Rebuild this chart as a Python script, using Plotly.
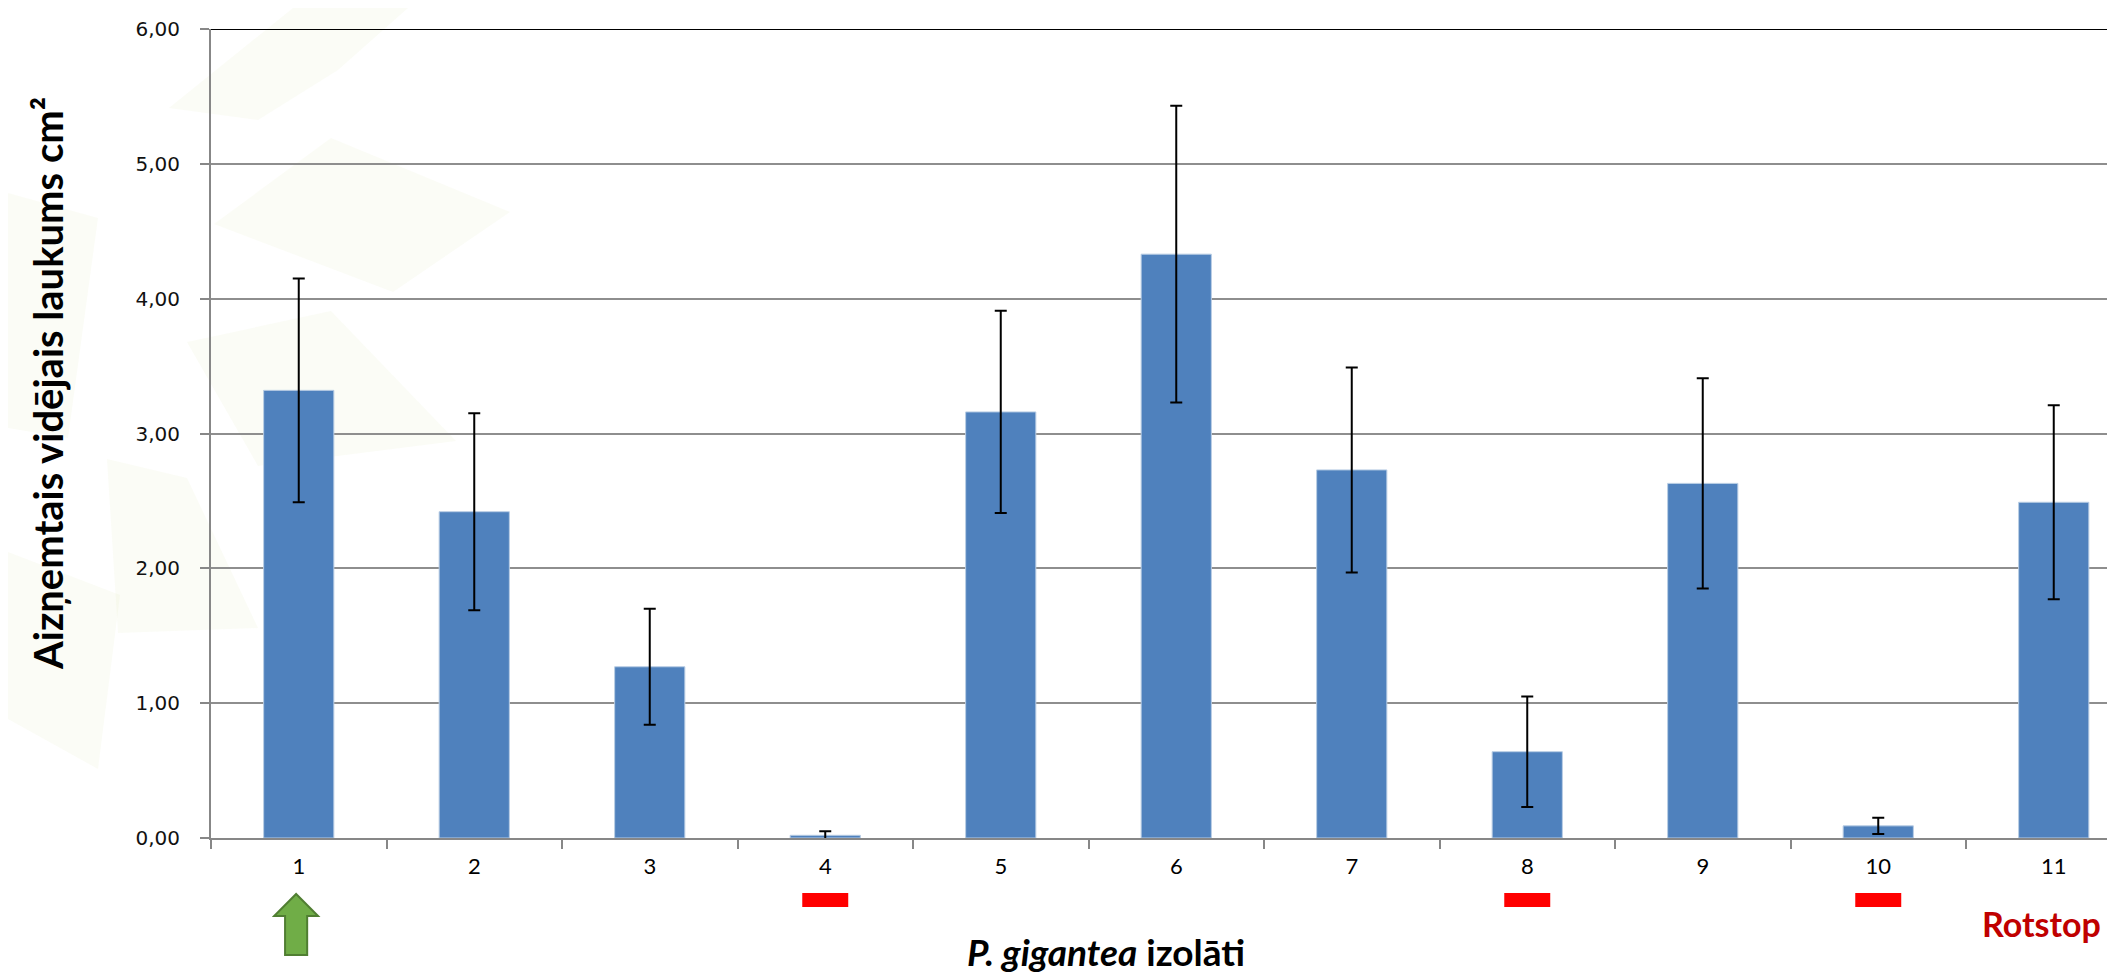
import plotly.graph_objects as go

# ---- data ----
categories = ["1", "2", "3", "4", "5", "6", "7", "8", "9", "10", "11"]
x_pos = [1, 2, 3, 4, 5, 6, 7, 8, 9, 10, 11]
mean_area = [3.32, 2.42, 1.27, 0.02, 3.16, 4.33, 2.73, 0.64, 2.63, 0.09, 2.49]
std_err = [0.83, 0.73, 0.43, 0.03, 0.75, 1.10, 0.76, 0.41, 0.78, 0.06, 0.72]
y_ticks = [0, 1, 2, 3, 4, 5, 6]
marked_red = [4, 8, 10]      # isolates marked with a red dash
marked_green = [1]           # isolate marked with a green arrow
reference_label = "Rotstop"

# ---- layout geometry (pixels) ----
W, H = 2115, 972
L, R, T, B = 203, 0, 21, 142
PW, PH = W - L - R, H - T - B


def px(xp):
    return (xp - L) / PW


def py(yp):
    return (H - B - yp) / PH


fig = go.Figure()
fig.add_trace(go.Bar(
    x=x_pos, y=mean_area, width=0.4,
    marker=dict(color="#4F81BD", line=dict(color="#B9CDE4", width=1)),
    error_y=dict(type="data", array=std_err, visible=True,
                 color="#000000", thickness=2, width=6),
    hoverinfo="x+y",
))

shapes = []
# faint decorative background tiles (slide template)
tiles = [
    [(161, 100), (285, 0), (400, 0), (330, 62), (250, 112)],
    [(206, 216), (323, 130), (502, 204), (385, 284)],
    [(179, 334), (323, 303), (448, 433), (250, 458)],
    [(99, 451), (179, 470), (250, 620), (110, 625)],
    [(0, 544), (112, 587), (90, 761), (0, 711)],
    [(0, 185), (90, 210), (60, 430), (0, 420)],
]
for poly in tiles:
    d = "M " + " L ".join(f"{px(a):.5f},{py(b):.5f}" for a, b in poly) + " Z"
    shapes.append(dict(type="path", xref="paper", yref="paper", path=d,
                       fillcolor="rgba(215,220,150,0.09)", line=dict(width=0),
                       layer="below"))

# top border line at 6,00
shapes.append(dict(type="line", xref="paper", yref="y", x0=0, x1=1, y0=6, y1=6,
                   line=dict(color="#000000", width=2)))

# red dashes under marked isolates
for c in marked_red:
    shapes.append(dict(type="rect", xref="x", yref="paper",
                       x0=c - 0.131, x1=c + 0.131, y0=py(899), y1=py(885),
                       fillcolor="#FF0000", line=dict(width=0)))

# green arrow(s)
for c in marked_green:
    hw, sw = 0.125, 0.063
    xc = c - 0.015
    pts = [(xc, 886), (xc + hw, 908), (xc + sw, 908), (xc + sw, 947),
           (xc - sw, 947), (xc - sw, 908), (xc - hw, 908)]
    d = "M " + " L ".join(f"{a:.4f},{py(b):.5f}" for a, b in pts) + " Z"
    shapes.append(dict(type="path", xref="x", yref="paper", path=d,
                       fillcolor="#70AD47", line=dict(color="#507E32", width=2)))

annotations = [
    dict(text="<b>Aizņemtais vidējais laukums cm²</b>", xref="paper", yref="paper",
         x=px(40), y=py(376), textangle=-90, showarrow=False,
         xanchor="center", yanchor="middle",
         font=dict(family="Lato", size=40, color="#000000")),
    dict(text="<b><i>P. gigantea</i> izolāti</b>", xref="paper", yref="paper",
         x=px(1098), y=py(944), showarrow=False, xanchor="center", yanchor="middle",
         font=dict(family="Lato", size=37, color="#000000")),
    dict(text=f"<b>{reference_label}</b>", xref="paper", yref="paper",
         x=px(2033), y=py(915), showarrow=False,
         xanchor="center", yanchor="middle",
         font=dict(family="Lato", size=34, color="#C00000")),
]

fig.update_layout(
    width=W, height=H,
    margin=dict(l=L, r=R, t=T, b=B, pad=0),
    paper_bgcolor="#FFFFFF", plot_bgcolor="rgba(0,0,0,0)",
    separators=",.",
    showlegend=False,
    bargap=0.6,
    shapes=shapes,
    annotations=annotations,
    xaxis=dict(
        range=[0.5, 0.5 + PW / 175.5], tickvals=x_pos, ticktext=categories,
        ticks="", showgrid=False, zeroline=False,
        showline=True, linecolor="#878787", linewidth=2,
        tickfont=dict(family="Lato", size=22, color="#000000"),
        ticklabelstandoff=8,
        minor=dict(tickvals=[v + 0.5 for v in [0] + x_pos], ticks="outside",
                   ticklen=9, tickwidth=2, tickcolor="#878787", showgrid=False),
        automargin=False, fixedrange=True,
    ),
    yaxis=dict(
        range=[0, 6], tickvals=y_ticks, tickformat=".2f",
        ticks="outside", ticklen=9, tickwidth=2, tickcolor="#878787",
        showgrid=True, gridcolor="#8E8E8E", gridwidth=1.5,
        zeroline=False, showline=True, linecolor="#878787", linewidth=2,
        tickfont=dict(family="DejaVu Sans", size=20, color="#111111"),
        ticklabelstandoff=16,
        automargin=False, fixedrange=True,
    ),
)

fig.write_html("out.html")
